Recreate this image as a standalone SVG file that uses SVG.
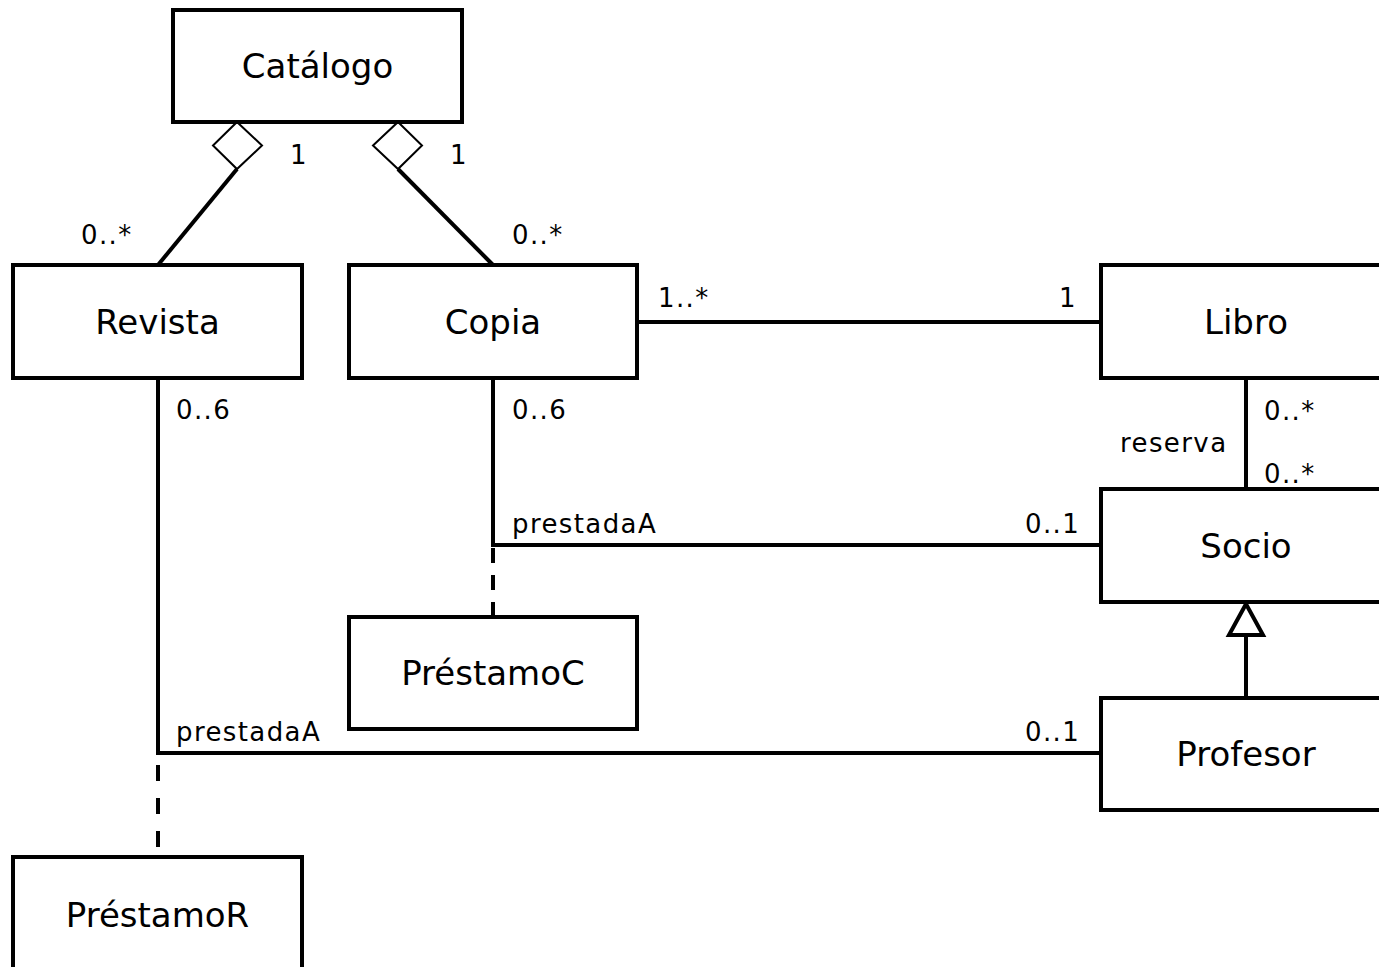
<svg xmlns="http://www.w3.org/2000/svg" width="1379" height="967" viewBox="0 0 1379 967">
<style>
.box{fill:#fff;stroke:#000;stroke-width:4}
.name{font-family:"DejaVu Sans",sans-serif;font-size:34px;text-anchor:middle;fill:#000}
.lbl{font-family:"DejaVu Sans",sans-serif;font-size:26px;letter-spacing:1.4px;fill:#000}
.ln{fill:none;stroke:#000;stroke-width:4}
.dash{fill:none;stroke:#000;stroke-width:4}
.dia{fill:#fff;stroke:#000;stroke-width:2}
.tri{fill:#fff;stroke:#000;stroke-width:4;stroke-linejoin:miter}
</style>
<rect width="1379" height="967" fill="#fff"/>
<g id="connectors">
<line class="ln" x1="237" y1="169" x2="158" y2="265"/>
<polygon class="dia" points="237,122 262,145.5 237,169 213,145.5"/>
<line class="ln" x1="398" y1="169" x2="493" y2="265"/>
<polygon class="dia" points="398,122 422,145.5 398,169 373,145.5"/>
<line class="ln" x1="637" y1="322" x2="1101" y2="322"/>
<line class="ln" x1="1246" y1="378" x2="1246" y2="489"/>
<polyline class="ln" points="493,378 493,545 1101,545"/>
<line class="dash" x1="493" y1="617" x2="493" y2="547" stroke-dasharray="15 12"/>
<polyline class="ln" points="158,378 158,753 1101,753"/>
<line class="dash" x1="158" y1="765" x2="158" y2="857" stroke-dasharray="16 17"/>
<line class="ln" x1="1246" y1="635" x2="1246" y2="698"/>
<polygon class="tri" points="1246,604 1263,635 1229,635"/>
<text class="lbl" x="290" y="164">1</text>
<text class="lbl" x="450" y="164">1</text>
<text class="lbl" x="81" y="244">0..*</text>
<text class="lbl" x="512" y="244">0..*</text>
<text class="lbl" x="658" y="307">1..*</text>
<text class="lbl" x="1059" y="307">1</text>
<text class="lbl" x="176" y="419">0..6</text>
<text class="lbl" x="512" y="419">0..6</text>
<text class="lbl" x="1264" y="420">0..*</text>
<text class="lbl" x="1120" y="452">reserva</text>
<text class="lbl" x="1264" y="483">0..*</text>
<text class="lbl" x="512" y="533">prestadaA</text>
<text class="lbl" x="1025" y="533">0..1</text>
<text class="lbl" x="176" y="741">prestadaA</text>
<text class="lbl" x="1025" y="741">0..1</text>
</g>
<g id="catalogo"><rect class="box" x="173" y="10" width="289" height="112"/><text class="name" x="317.5" y="78">Catálogo</text></g>
<g id="revista"><rect class="box" x="13" y="265" width="289" height="113"/><text class="name" x="157.5" y="334">Revista</text></g>
<g id="copia"><rect class="box" x="349" y="265" width="288" height="113"/><text class="name" x="493" y="334">Copia</text></g>
<g id="libro"><rect class="box" x="1101" y="265" width="300" height="113"/><text class="name" x="1246" y="334">Libro</text></g>
<g id="socio"><rect class="box" x="1101" y="489" width="300" height="113"/><text class="name" x="1246" y="558">Socio</text></g>
<g id="profesor"><rect class="box" x="1101" y="698" width="300" height="112"/><text class="name" x="1246" y="766">Profesor</text></g>
<g id="prestamoC"><rect class="box" x="349" y="617" width="288" height="112"/><text class="name" x="493" y="685">PréstamoC</text></g>
<g id="prestamoR"><rect class="box" x="13" y="857" width="289" height="130"/><text class="name" x="157.5" y="927">PréstamoR</text></g>
</svg>
